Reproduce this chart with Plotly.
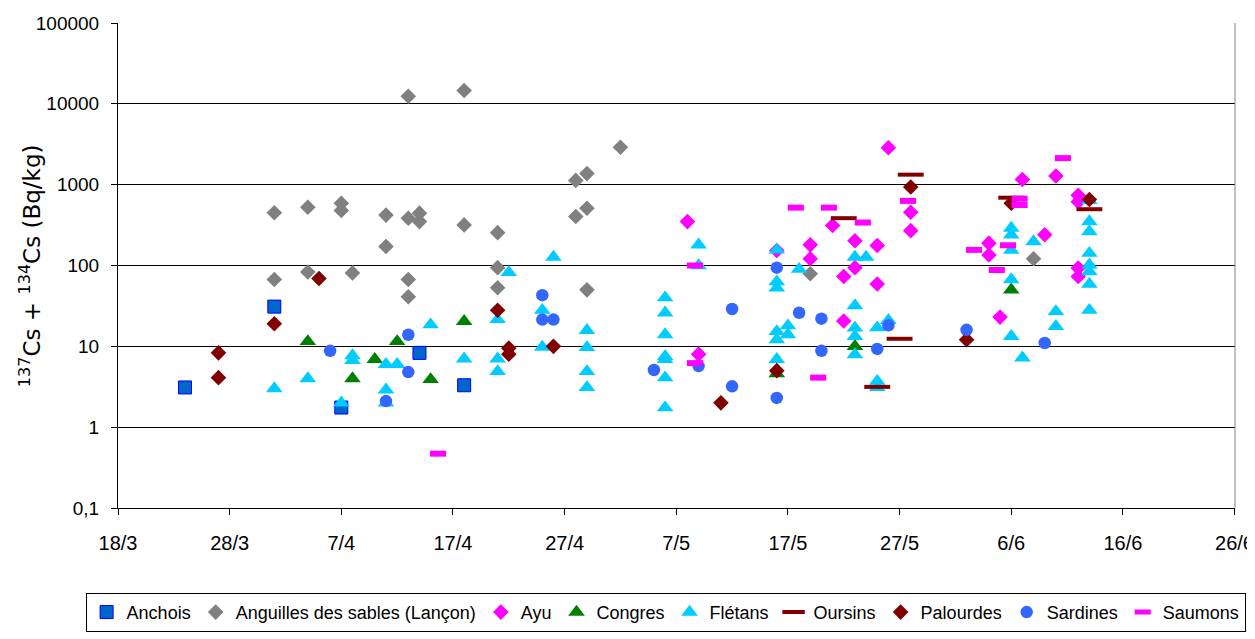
import plotly.graph_objects as go

# ---------------- data ----------------
anchois_dates = ["2011-03-24", "2011-04-01", "2011-04-07", "2011-04-14", "2011-04-18"]
anchois_vals = [3.1, 31, 1.75, 8.3, 3.3]

anguilles_dates = ["2011-04-01", "2011-04-01", "2011-04-04", "2011-04-04", "2011-04-07", "2011-04-07",
                   "2011-04-08", "2011-04-11", "2011-04-11", "2011-04-13", "2011-04-13", "2011-04-13",
                   "2011-04-13", "2011-04-14", "2011-04-14", "2011-04-18", "2011-04-18", "2011-04-21",
                   "2011-04-21", "2011-04-21", "2011-04-28", "2011-04-28", "2011-04-29", "2011-04-29",
                   "2011-04-29", "2011-05-02", "2011-05-19", "2011-06-08"]
anguilles_vals = [450, 67, 525, 83, 590, 480,
                  81, 420, 172, 12400, 385, 67,
                  41, 444, 349, 14600, 318, 255,
                  94, 53, 1130, 403, 1370, 510,
                  50, 2900, 79, 121]

ayu_dates = ["2011-05-08", "2011-05-09", "2011-05-16", "2011-05-19", "2011-05-19", "2011-05-21",
             "2011-05-22", "2011-05-22", "2011-05-23", "2011-05-23", "2011-05-25", "2011-05-25",
             "2011-05-26", "2011-05-28", "2011-05-28", "2011-06-04", "2011-06-04", "2011-06-05",
             "2011-06-07", "2011-06-09", "2011-06-10", "2011-06-12", "2011-06-12", "2011-06-12",
             "2011-06-12"]
ayu_vals = [349, 8, 153, 180, 121, 312,
            73, 20.6, 202, 94, 177, 59,
            2860, 456, 270, 189, 135, 23,
            1160, 240, 1280, 738, 615, 93,
            73]

congres_dates = ["2011-04-04", "2011-04-08", "2011-04-10", "2011-04-12", "2011-04-15", "2011-04-18",
                 "2011-05-16", "2011-05-23", "2011-06-06"]
congres_vals = [11.5, 4.0, 6.9, 11.5, 3.9, 20.4, 4.6, 10, 50]

fletans_dates = ["2011-04-01", "2011-04-04", "2011-04-07", "2011-04-08", "2011-04-08", "2011-04-11",
                 "2011-04-11", "2011-04-11", "2011-04-12", "2011-04-15", "2011-04-18", "2011-04-21",
                 "2011-04-21", "2011-04-21", "2011-04-22", "2011-04-25", "2011-04-25", "2011-04-26",
                 "2011-04-29", "2011-04-29", "2011-04-29", "2011-04-29", "2011-05-06", "2011-05-06",
                 "2011-05-06", "2011-05-06", "2011-05-06", "2011-05-06", "2011-05-06", "2011-05-09",
                 "2011-05-09", "2011-05-16", "2011-05-16", "2011-05-16", "2011-05-16", "2011-05-16",
                 "2011-05-16", "2011-05-17", "2011-05-17", "2011-05-18", "2011-05-23", "2011-05-23",
                 "2011-05-23", "2011-05-23", "2011-05-23", "2011-05-24", "2011-05-25", "2011-05-25",
                 "2011-05-25", "2011-05-26", "2011-06-06", "2011-06-06", "2011-06-06", "2011-06-06",
                 "2011-06-06", "2011-06-07", "2011-06-08", "2011-06-10", "2011-06-10", "2011-06-13",
                 "2011-06-13", "2011-06-13", "2011-06-13", "2011-06-13", "2011-06-13", "2011-06-13",
                 "2011-06-13"]
fletans_vals = [3.0, 4.0, 2.0, 7.7, 6.7, 6.0,
                2.9, 2.0, 6.0, 18.5, 7.0, 21.5,
                7.0, 4.9, 82, 28, 9.8, 127,
                15.8, 9.7, 4.9, 3.1, 40, 26,
                14, 7.5, 6.9, 4.1, 1.74, 180,
                100, 156, 63, 53, 15.3, 12.1,
                6.9, 18, 14, 90, 127, 32,
                16.9, 13.3, 7.9, 127, 17, 3.7,
                3.1, 21, 290, 240, 155, 67,
                13.3, 7.2, 198, 27, 17.7, 640,
                350, 263, 142, 102, 84, 59,
                28]

oursins_dates = ["2011-05-22", "2011-05-25", "2011-05-27", "2011-05-28", "2011-06-06", "2011-06-13"]
oursins_vals = [385, 3.15, 12.4, 1330, 690, 497]

palourdes_dates = ["2011-03-27", "2011-03-27", "2011-04-01", "2011-04-05", "2011-04-21", "2011-04-22",
                   "2011-04-22", "2011-04-26", "2011-05-11", "2011-05-16", "2011-05-28", "2011-06-02",
                   "2011-06-06", "2011-06-13"]
palourdes_vals = [8.3, 4.1, 19, 69, 28, 9.5,
                  8.0, 10, 2.0, 5.0, 934, 12.1,
                  590, 654]

sardines_dates = ["2011-04-06", "2011-04-11", "2011-04-13", "2011-04-13", "2011-04-25", "2011-04-25",
                  "2011-04-26", "2011-05-05", "2011-05-09", "2011-05-12", "2011-05-12", "2011-05-16",
                  "2011-05-16", "2011-05-18", "2011-05-20", "2011-05-20", "2011-05-25", "2011-05-26",
                  "2011-06-02", "2011-06-09"]
sardines_vals = [8.8, 2.1, 13.9, 4.8, 43, 21.4,
                 21.4, 5.1, 5.7, 29, 3.2, 94,
                 2.3, 26, 22, 8.8, 9.3, 18.2,
                 16, 11]

saumons_dates = ["2011-04-15 16:00", "2011-05-08 16:00", "2011-05-08 16:00", "2011-05-17 17:00",
                 "2011-05-19 17:00", "2011-05-20 16:00", "2011-05-23 17:00", "2011-05-27 18:00",
                 "2011-06-02 16:00", "2011-06-04 17:00", "2011-06-05 17:00", "2011-06-06 18:00",
                 "2011-06-06 18:00", "2011-06-10 15:00"]
saumons_vals = [0.47, 100, 6.2, 520,
                4.1, 520, 340, 630,
                156, 88, 178, 670,
                560, 2130]

y_tickvals = [0.1, 1, 10, 100, 1000, 10000, 100000]
y_ticktext = ["0,1", "1", "10", "100", "1000", "10000", "100000"]

# ---------------- figure ----------------
SANS = "Liberation Sans, Arial, sans-serif"

fig = go.Figure()

def add(name, x, y, symbol, size, color, line_color=None, line_width=0):
    fig.add_trace(go.Scatter(
        x=x, y=y, mode="markers", name=name,
        marker=dict(symbol=symbol, size=size, color=color,
                    line=dict(color=line_color or color, width=line_width)),
    ))

add("Anchois", anchois_dates, anchois_vals, "square", 13, "#0066CC", "#0000FF", 1)
add("Anguilles des sables (Lançon)", anguilles_dates, anguilles_vals, "diamond", 12, "#808080")
add("Ayu", ayu_dates, ayu_vals, "diamond", 12, "#FF00FF")
add("Congres", congres_dates, congres_vals, "triangle-up", 14.5, "#008000")
add("Flétans", fletans_dates, fletans_vals, "triangle-up", 14.5, "#00CCFF")
add("Oursins", oursins_dates, oursins_vals, "line-ew", 18.5, "#800000", "#800000", 4)
add("Palourdes", palourdes_dates, palourdes_vals, "diamond", 12, "#800000")
add("Sardines", sardines_dates, sardines_vals, "circle", 12.5, "#3366FF")
add("Saumons", saumons_dates, saumons_vals, "line-ew", 11.5, "#FF00FF", "#FF00FF", 6)

fig.update_layout(
    width=1247, height=631,
    margin=dict(l=110, r=20, t=15, b=131, autoexpand=False),
    paper_bgcolor="white", plot_bgcolor="white",
    showlegend=True,
    legend=dict(
        orientation="h", x=-0.029, xanchor="left", y=-0.175, yanchor="top",
        bordercolor="black", borderwidth=1, bgcolor="white",
        font=dict(family=SANS, size=18, color="black"),
        itemwidth=30, tracegroupgap=0,
    ),
    xaxis=dict(
        type="date", range=["2011-03-18", "2011-06-26 01:00"],
        tick0="2011-03-18", dtick=10 * 86400000, tickformat="%-d/%-m",
        showgrid=False, zeroline=False,
        showline=True, linecolor="black", linewidth=1,
        ticks="outside", ticklen=6, tickcolor="black",
        tickfont=dict(family=SANS, size=20, color="black"), ticklabelstandoff=11,
    ),
    yaxis=dict(
        type="log", range=[-1, 5],
        tickvals=y_tickvals, ticktext=y_ticktext,
        showgrid=True, gridcolor="black", gridwidth=1,
        zeroline=False,
        showline=True, linecolor="black", linewidth=1,
        ticks="outside", ticklen=6, tickcolor="black",
        tickfont=dict(family=SANS, size=19, color="black"), ticklabelstandoff=8,
    ),
    annotations=[dict(
        text="<sup>137</sup>Cs + <sup>134</sup>Cs (Bq/kg)",
        xref="paper", yref="paper", x=-0.079, y=0.5,
        xanchor="center", yanchor="middle", textangle=-90, showarrow=False,
        font=dict(family="DejaVu Sans, Verdana, sans-serif", size=23, color="black"),
    )],
    shapes=[dict(type="line", xref="paper", yref="paper", x0=1, x1=1, y0=0, y1=1,
                 line=dict(color="#808080", width=1))],
)

fig.write_html("out.html")
